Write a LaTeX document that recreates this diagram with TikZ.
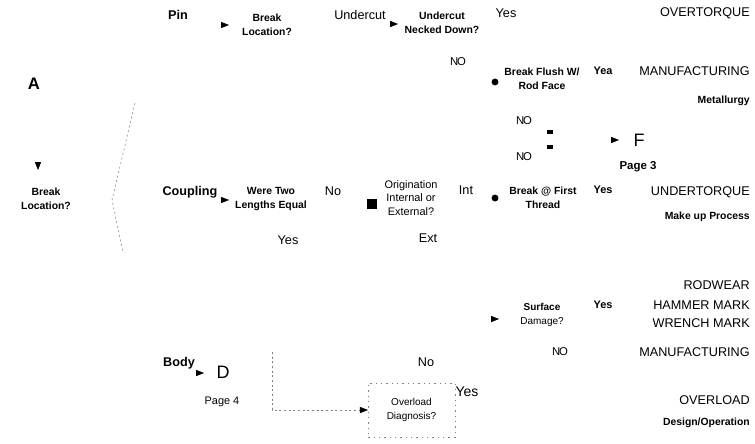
\documentclass[tikz,border=0pt]{standalone}
\usepackage{fontspec}
\setmainfont{Liberation Sans}
\usetikzlibrary{arrows.meta}

\tikzset{
  word/.style={font=\fontsize{9.5}{11}\selectfont, inner sep=0pt},
  cat/.style={font=\bfseries\fontsize{9.5}{11}\selectfont, inner sep=0pt},
  ask/.style={font=\bfseries\fontsize{7.8}{10.5}\selectfont, align=center, inner sep=0pt},
  askthin/.style={font=\fontsize{7.5}{10}\selectfont, align=center, inner sep=0pt},
  answer/.style={font=\bfseries\fontsize{8.2}{10}\selectfont, inner sep=0pt},
  result/.style={word, anchor=east},
  remark/.style={font=\bfseries\fontsize{7.8}{10}\selectfont, anchor=east, inner sep=0pt},
  letter/.style={font=\fontsize{13.5}{15}\selectfont, inner sep=0pt},
  stub/.style={-{Triangle[length=6pt,width=4.6pt]}, line width=0.3pt},
  faint/.style={gray, line width=0.4pt, dash pattern=on 1.5pt off 2pt},
  blob/.style={circle, fill=black, inner sep=0pt, minimum size=5.2pt},
  bar/.style={fill=black, inner sep=0pt, minimum width=5.2pt, minimum height=2.8pt},
}

\begin{document}
\begin{tikzpicture}[x=0.75pt, y=-0.75pt]
        \useasboundingbox (0,0) rectangle (755,443);

        % Start of the chart
        \node[font=\bfseries\fontsize{12.5}{14}\selectfont, inner sep=0pt] (pageA) at (34,84) {A};
        \coordinate (tipstart) at (38,170);
        \draw[stub] ([yshift=5pt]tipstart) -- (tipstart);
        \node[ask] (where) at (46,199) {Break\\Location?};

        % Fan out to the three parts
        \coordinate (fantop) at (135,103);
        \coordinate (fanmid) at (112,200);
        \coordinate (fanbot) at (123,252);
        \draw[faint] (fantop) -- (fanmid) -- (fanbot);

        % Pin branch
        \node[cat] (pin) at (178,15) {Pin};
        \coordinate (tippin) at (229,25);
        \draw[stub] ([xshift=-6pt]tippin) -- (tippin);
        \node[ask] (pinloc) at (267,25) {Break\\Location?};
        \node[word] (under) at (360,15) {Undercut};
        \coordinate (tipunder) at (398,24);
        \draw[stub] ([xshift=-6pt]tipunder) -- (tipunder);
        \node[ask] (necked) at (442,23) {Undercut\\Necked Down?};
        \node[word] (yesneck) at (506,13) {Yes};
        \node[result] (overtorque) at (750,13) {OVERTORQUE};
        \node[word, font=\fontsize{8.5}{10}\selectfont] (noneck) at (458,62) {N\kern-.12em O};

        \node[blob] (dotflush) at (495,82) {};
        \node[ask] (flush) at (542,79) {Break Flush W/\\Rod Face};
        \node[answer] (yea) at (603,71) {Yea};
        \node[result] (manuf) at (750,71) {MANUFACTURING};
        \node[remark] (metal) at (750,101) {Metallurgy};

        \node[word, font=\fontsize{8.5}{10}\selectfont] (noflush) at (524,121) {N\kern-.12em O};
        \node[bar] (barup) at (550,132) {};
        \node[bar] (bardown) at (550,147) {};
        \node[word, font=\fontsize{8.5}{10}\selectfont] (nothread) at (524,157) {N\kern-.12em O};
        \coordinate (tipF) at (619,140);
        \draw[stub] ([xshift=-6pt]tipF) -- (tipF);
        \node[letter] (pageF) at (639,140) {F};
        \node[answer, font=\bfseries\fontsize{8.6}{10}\selectfont] (page3) at (638,167) {Page 3};

        % Coupling branch
        \node[cat] (coupling) at (190,192) {Coupling};
        \coordinate (tipcoup) at (229,200);
        \draw[stub] ([xshift=-6pt]tipcoup) -- (tipcoup);
        \node[ask] (lengths) at (271,199) {Were Two\\Lengths Equal};
        \node[word] (nolen) at (333,191) {No};
        \node[fill=black, inner sep=0pt, minimum size=6.8pt] (box) at (372,204) {};
        \node[askthin, font=\fontsize{8.2}{10}\selectfont] (orig) at (411,198) {Origination\\Internal or\\External?};
        \node[word] (int) at (466,190) {Int};
        \node[blob] (dotthread) at (495,198) {};
        \node[ask] (thread) at (543,198) {Break @ First\\Thread};
        \node[answer] (yesthread) at (603,190) {Yes};
        \node[result] (undertorque) at (750,192) {UNDERTORQUE};
        \node[remark] (makeup) at (750,217) {Make up Process};
        \node[word] (ext) at (428,238) {Ext};
        \node[word] (yeslen) at (288,240) {Yes};

        % Surface damage
        \node[result] (rodwear) at (750,285) {RODWEAR};
        \coordinate (tipsurf) at (499,319);
        \draw[stub] ([xshift=-6pt]tipsurf) -- (tipsurf);
        \node[askthin] (surface) at (542,315) {\textbf{Surface}\\Damage?};
        \node[answer] (yessurf) at (603,305) {Yes};
        \node[result] (hammer) at (750,305) {HAMMER MARK};
        \node[result] (wrench) at (750,323) {WRENCH MARK};
        \node[word, font=\fontsize{8.5}{10}\selectfont] (nosurf) at (560,352) {N\kern-.12em O};
        \node[result] (manufb) at (750,352) {MANUFACTURING};

        % Body branch
        \node[cat] (body) at (179,363) {Body};
        \coordinate (tipbody) at (204,373);
        \draw[stub] ([xshift=-6pt]tipbody) -- (tipbody);
        \node[letter] (pageD) at (223,372) {D};
        \node[word, font=\fontsize{8.2}{10}\selectfont] (page4) at (222,402) {Page 4};

        \node[askthin, draw=gray, dash pattern=on 1pt off 3pt, line width=0.4pt,
              minimum width=65pt, minimum height=40.5pt] (ovl) at (411.5,410) {Overload\\Diagnosis?};
        \coordinate (bodyline) at (272,352);
        \draw[faint] (bodyline) |- ([xshift=-5pt]ovl.west);
        \draw[stub] ([xshift=-6pt]ovl.west) -- (ovl.west);
        \node[word] (noovl) at (426,362) {No};
        \node[word, font=\fontsize{10.5}{12}\selectfont] (yesovl) at (467,392) {Yes};
        \node[result] (overload) at (750,400) {OVERLOAD};
        \node[remark] (design) at (750,423) {Design/Operation};
    \end{tikzpicture}
\end{document}
